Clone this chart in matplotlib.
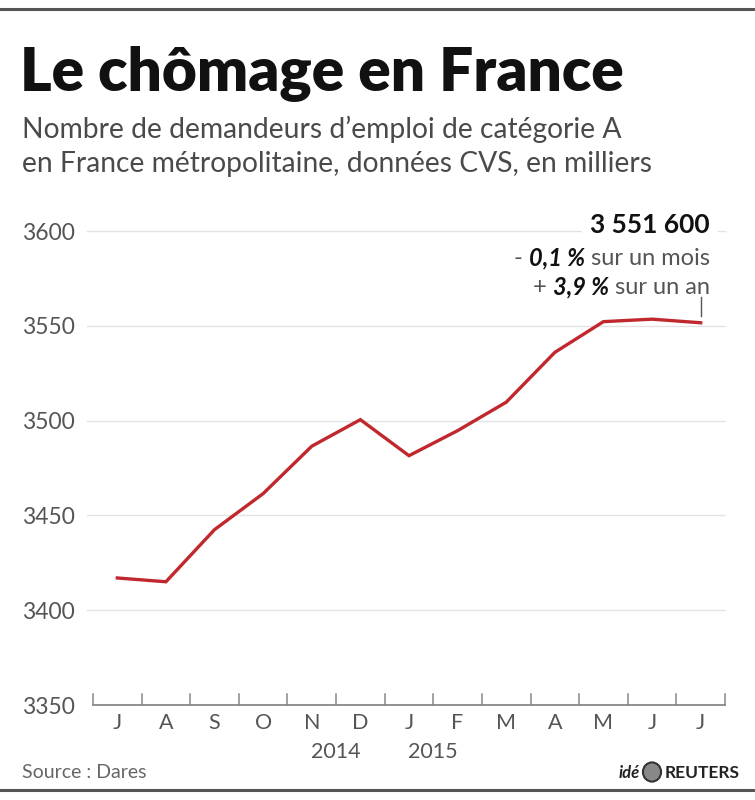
import matplotlib
matplotlib.use("Agg")
import matplotlib.pyplot as plt
from matplotlib.lines import Line2D
from matplotlib.patches import Circle

months = ["J", "A", "S", "O", "N", "D", "J", "F", "M", "A", "M", "J", "J"]
values = [3417, 3415, 3442.5, 3461.5, 3486.5, 3500.5, 3481.5, 3494.7, 3509.7, 3536, 3552.2, 3553.5, 3551.6]
yticks = [3350, 3400, 3450, 3500, 3550, 3600]
years = ["2014", "2015"]
year_pos = [4.5, 6.5]

title = "Le chômage en France"
subtitle_lines = ["Nombre de demandeurs d\u2019emploi de catégorie A",
                  "en France métropolitaine, données CVS, en milliers"]
ann_main = "3 551 600"
ann_lines = [("- ", "0,1 %", " sur un mois"), ("+ ", "3,9 %", " sur un an")]

FONT = "Lato"
W, H = 755, 800
fig = plt.figure(figsize=(W / 100, H / 100), dpi=100)
fig.patch.set_facecolor("white")

def fx(px):
    return px / W

def fy(py):
    return 1 - py / H

# borders
fig.add_artist(Line2D([0, 1], [fy(9), fy(9)], color="#555555", lw=2.2, transform=fig.transFigure))
fig.add_artist(Line2D([0, 1], [fy(790), fy(790)], color="#555555", lw=2.2, transform=fig.transFigure))

fig.text(fx(20), fy(90), title, fontsize=43.5, fontweight="heavy", family=FONT, color="#111111", va="baseline")
for i, line in enumerate(subtitle_lines):
    fig.text(fx(22), fy(138 + i * 34), line, fontsize=20.3, fontweight="normal", family=FONT, color="#4a4a4a",
             va="baseline")

ax = fig.add_axes([fx(93), fy(705), fx(725) - fx(93), (705 - 231) / H])
ax.set_xlim(-0.5, len(months) - 0.5)
ax.set_ylim(yticks[0], yticks[-1])
for s in ax.spines.values():
    s.set_visible(False)
ax.set_facecolor("none")

for yv in yticks[1:]:
    ax.axhline(yv, color="#e3e3e3", lw=1.0, zorder=0, xmin=-0.01, xmax=1.0, clip_on=False)

# baseline axis with upward ticks
ax.axhline(yticks[0], color="#888888", lw=1.3, clip_on=False)
for i in range(len(months) + 1):
    ax.plot([i - 0.5, i - 0.5], [yticks[0], yticks[0] + 6], color="#888888", lw=1.1, clip_on=False)

ax.plot(range(len(months)), values, color="#c0282e", lw=2.4, solid_joinstyle="miter", zorder=3)

ax.set_yticks(yticks)
ax.set_yticklabels([str(v) for v in yticks], fontsize=16.5, family=FONT, color="#555555", fontweight="normal")
ax.tick_params(axis="y", length=0, pad=13)
ax.set_xticks(range(len(months)))
ax.set_xticklabels(months, fontsize=15.5, family=FONT, color="#555555", fontweight="normal")
ax.tick_params(axis="x", length=0, pad=6)
for yr, xp in zip(years, year_pos):
    ax.text(xp, yticks[0], yr, fontsize=15.5, family=FONT, color="#555555",
            fontweight="normal", ha="center", va="top",
            transform=ax.transData + matplotlib.transforms.ScaledTranslation(0, -37 / 100, fig.dpi_scale_trans))

# annotation
last = len(values) - 1
ax.plot([last, last], [values[-1] + 3.5, values[-1] + 13.5], color="#555555", lw=1.0)
fig.text(fx(710), fy(233), ann_main, fontsize=19, fontweight="bold", family=FONT, color="#111111",
         ha="right", va="baseline", bbox=dict(facecolor="white", edgecolor="none", pad=6))

renderer = fig.canvas.get_renderer()
for k, (sign, pct, rest) in enumerate(ann_lines):
    yb = fy(265 + k * 29)
    x = fx(710)
    t = fig.text(x, yb, rest, fontsize=17, fontweight="normal", family=FONT, color="#555555", ha="right", va="baseline")
    x -= t.get_window_extent(renderer).width / W
    t = fig.text(x, yb, pct, fontsize=17, fontweight="bold", style="italic", family=FONT, color="#111111", ha="right", va="baseline")
    x -= t.get_window_extent(renderer).width / W
    fig.text(x, yb, sign, fontsize=17, fontweight="normal", family=FONT, color="#555555", ha="right", va="baseline")

fig.text(fx(22), fy(778), "Source : Dares", fontsize=14, fontweight="normal", family=FONT, color="#666666", va="baseline")
fig.text(fx(640), fy(778), "idé", fontsize=12, fontweight="bold", style="italic", family=FONT, color="#222222",
         ha="right", va="baseline")
fig.add_artist(Circle((fx(652), fy(772)), 0.012, transform=fig.transFigure, facecolor="#888888", edgecolor="#333333", lw=1.5))
fig.text(fx(665), fy(778), "REUTERS", fontsize=12.5, fontweight="bold", family=FONT, color="#222222", va="baseline")

fig.savefig("out.png", dpi=100, facecolor="white")
